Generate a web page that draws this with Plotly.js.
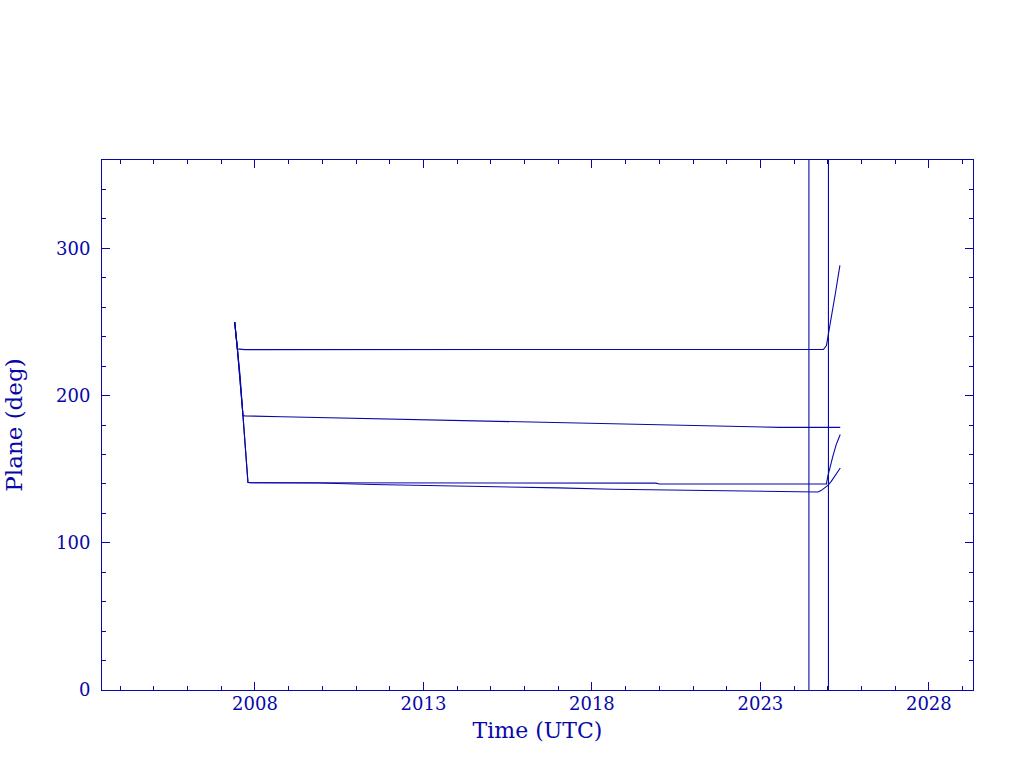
<!DOCTYPE html>
<html>
<head>
<meta charset="utf-8">
<script src="https://cdn.plot.ly/plotly-3.0.1.min.js"></script>
<style>
  html, body { margin: 0; padding: 0; background: #ffffff; }
  #chart { width: 1024px; height: 768px; }
</style>
</head>
<body>
<div id="chart"></div>
<script>
// ---- Data (decimal years, plane in degrees) ----
const planeA_t = [2007.398, 2007.430, 2007.478, 2007.70, 2012.0, 2018.0, 2024.87, 2024.96, 2025.10, 2025.23, 2025.36];
const planeA_v = [250.0, 240.5, 231.7, 231.2, 231.2, 231.3, 231.3, 234.0, 252.0, 270.0, 288.4];

const planeB_t = [2007.398, 2007.478, 2007.560, 2007.644, 2007.70, 2008.8, 2010.4, 2012.0, 2013.6, 2015.0, 2016.5, 2018.0, 2019.5, 2021.0, 2022.5, 2023.6, 2025.37];
const planeB_v = [250.0, 231.7, 213.1, 186.4, 186.2, 185.6, 184.8, 184.1, 183.5, 182.8, 182.1, 181.4, 180.7, 179.8, 179.0, 178.4, 178.4];

const planeC_t = [2007.398, 2007.478, 2007.644, 2007.792, 2007.90, 2012.0, 2019.9, 2020.0, 2024.96, 2025.00, 2025.07, 2025.15, 2025.25, 2025.37];
const planeC_v = [250.0, 231.7, 186.4, 141.0, 140.8, 140.7, 140.5, 139.9, 139.9, 145.1, 151.9, 158.7, 166.7, 173.5];

const planeD_t = [2007.398, 2007.478, 2007.644, 2007.792, 2007.90, 2009.9, 2011.5, 2013.4, 2015.2, 2017.0, 2018.6, 2020.4, 2022.3, 2024.0, 2024.71, 2024.81, 2024.905, 2025.003, 2025.104, 2025.202, 2025.300, 2025.371];
const planeD_v = [250.0, 231.7, 186.4, 141.0, 140.8, 140.6, 139.6, 138.9, 138.2, 137.3, 136.4, 135.8, 135.1, 134.7, 134.5, 135.6, 137.2, 139.0, 141.7, 145.1, 148.5, 150.8];

// vertical marker times (decimal years)
const markerTimes = [2024.44, 2025.02];

// axis settings
const xRange = [2003.46, 2029.31];
const yRange = [0, 360];
const xMajorTicks = [2008, 2013, 2018, 2023, 2028];
const xTickLabels = ['2008', '2013', '2018', '2023', '2028'];

const C = '#0808a8';
const FONT = 'DejaVu Serif, Liberation Serif, serif';

function lineTrace(t, v) {
  return { x: t, y: v, type: 'scatter', mode: 'lines',
           line: { color: C, width: 1.1 }, hoverinfo: 'skip', showlegend: false };
}

const traces = [
  lineTrace(planeA_t, planeA_v),
  lineTrace(planeB_t, planeB_v),
  lineTrace(planeC_t, planeC_v),
  lineTrace(planeD_t, planeD_v)
];

const shapes = markerTimes.map(t => ({
  type: 'line', xref: 'x', yref: 'paper', x0: t, x1: t, y0: 0, y1: 1,
  line: { color: C, width: 1.1 }
}));

const layout = {
  width: 1024, height: 768,
  margin: { l: 102, r: 51, t: 160, b: 78, pad: 0 },
  paper_bgcolor: '#ffffff', plot_bgcolor: '#ffffff',
  showlegend: false,
  shapes: shapes,
  xaxis: {
    range: xRange,
    tickmode: 'array', tickvals: xMajorTicks, ticktext: xTickLabels,
    ticks: 'inside', ticklen: 8, tickwidth: 1, tickcolor: C,
    minor: { tickmode: 'linear', tick0: 2008, dtick: 1, ticks: 'inside', ticklen: 4, tickwidth: 1, tickcolor: C, showgrid: false },
    showline: true, linecolor: C, linewidth: 1, mirror: 'ticks',
    showgrid: false, zeroline: false,
    tickfont: { family: FONT, size: 18, color: C },
    ticklabelstandoff: -3,
    title: { text: 'Time (UTC)', font: { family: FONT, size: 22, color: C }, standoff: 10 }
  },
  yaxis: {
    range: yRange,
    tickmode: 'linear', tick0: 0, dtick: 100,
    ticks: 'inside', ticklen: 8, tickwidth: 1, tickcolor: C,
    minor: { tickmode: 'linear', tick0: 0, dtick: 20, ticks: 'inside', ticklen: 4, tickwidth: 1, tickcolor: C, showgrid: false },
    showline: true, linecolor: C, linewidth: 1, mirror: 'ticks',
    showgrid: false, zeroline: false,
    tickfont: { family: FONT, size: 18, color: C },
    ticklabelstandoff: 7,
    title: { text: 'Plane (deg)', font: { family: FONT, size: 23, color: C }, standoff: 26 }
  }
};

Plotly.newPlot('chart', traces, layout, { staticPlot: true, displayModeBar: false });
</script>
</body>
</html>
